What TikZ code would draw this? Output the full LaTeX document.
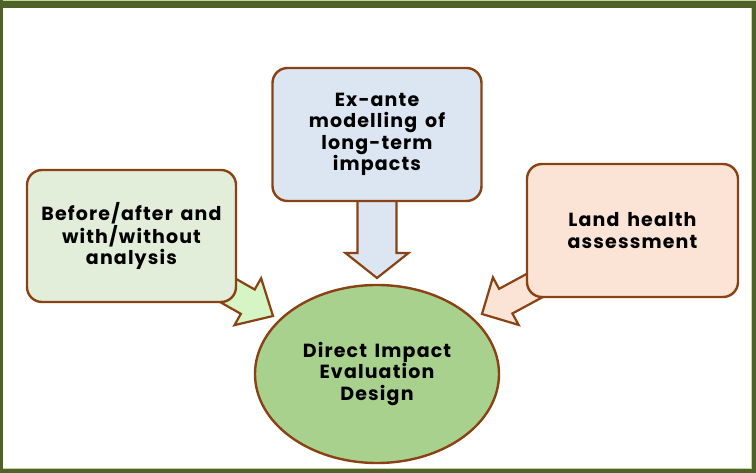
\documentclass[tikz,border=0pt]{standalone}
\usepackage{fontspec}
\setmainfont{Poppins}[LetterSpace=6, WordSpace=1.5]
\usetikzlibrary{positioning,shapes.geometric}

\definecolor{framegreen}{RGB}{79,98,40}
\definecolor{framelight}{RGB}{196,214,160}
\definecolor{boxbrown}{RGB}{138,66,20}
\definecolor{beforefill}{RGB}{226,238,217}
\definecolor{beforearrow}{RGB}{214,245,196}
\definecolor{exantefill}{RGB}{220,230,242}
\definecolor{landfill}{RGB}{251,228,214}
\definecolor{designfill}{RGB}{169,209,142}

\tikzset{
  infobox/.style={draw=boxbrown, line width=2.4pt, rounded corners=15pt,
    minimum width=209pt, minimum height=132pt, inner sep=0pt, align=center,
    font=\bfseries\fontsize{19}{21.5}\selectfont},
  bigarrow/.style={draw=boxbrown, line width=2.2pt, line join=miter},
}

\begin{document}
\begin{tikzpicture}[x=1pt, y=-1pt]
  \useasboundingbox (0,0) rectangle (756,473);

  % Rahmen
  \fill[framegreen] (0,0) rectangle (756,473);
  \fill[white] (3,8) rectangle (750.5,467.5);
  \draw[framelight, line width=0.8pt] (3,0.4) -- (756,0.4);
  \draw[framelight, line width=0.8pt] (751.2,8) -- (751.2,468.2) -- (3,468.2);

  % Blockpfeile (liegen hinter den Kaesten)
  \begin{scope}[shift={(273,316)}, rotate=-29.6]
    \draw[bigarrow, fill=beforearrow] (0,0) -- (-29,27) -- (-29,14) -- (-90,14)
      -- (-90,-14) -- (-29,-14) -- (-29,-27) -- cycle;
  \end{scope}
  \begin{scope}[shift={(377,278)}, rotate=-90]
    \draw[bigarrow, fill=exantefill] (0,0) -- (-25,31.5) -- (-25,19.5) -- (-80,19.5)
      -- (-80,-19.5) -- (-25,-19.5) -- (-25,-31.5) -- cycle;
  \end{scope}
  \begin{scope}[shift={(482,314)}, rotate=208.4]
    \draw[bigarrow, fill=landfill] (0,0) -- (-27,27) -- (-27,14) -- (-90,14)
      -- (-90,-14) -- (-27,-14) -- (-27,-27) -- cycle;
  \end{scope}

  % Kaesten
  \node[infobox, fill=beforefill] (before) at (131.5,236) {Before/after and\\with/without\\analysis};
  \node[infobox, fill=exantefill, minimum height=133pt] (exante) at (377,134.5) {Ex-ante\\modelling of\\long-term\\impacts};
  \node[infobox, fill=landfill, minimum width=211pt, minimum height=133pt] (land) at (632.5,230.5) {Land health\\assessment};

  % Ziel
  \node[ellipse, draw=boxbrown, line width=2.4pt, fill=designfill, minimum width=244pt,
    minimum height=178pt, inner sep=0pt, align=center,
    font=\bfseries\fontsize{19}{21.5}\selectfont] (design) at (377,374) {Direct Impact\\Evaluation\\Design};
\end{tikzpicture}
\end{document}
